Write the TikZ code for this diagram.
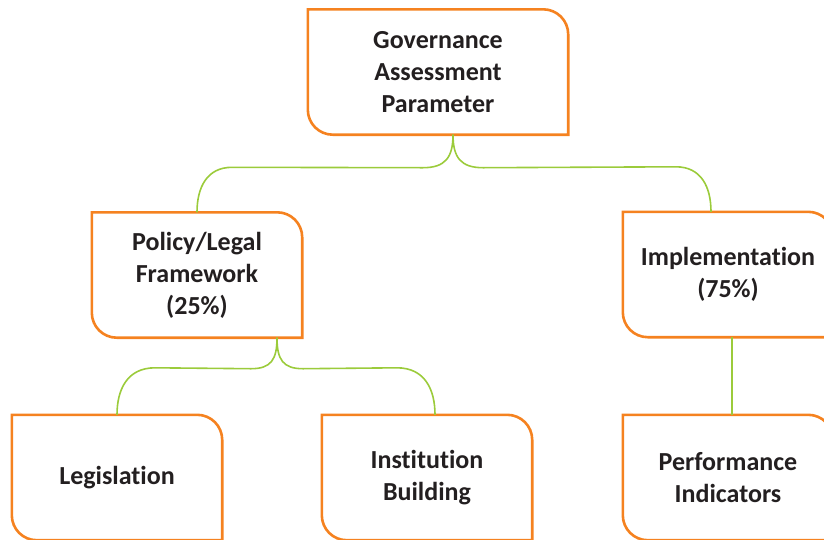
\documentclass[tikz,border=0pt]{standalone}
\usepackage{fontspec}
\setmainfont{Carlito}[RawFeature=-liga]
\usetikzlibrary{calc}
\definecolor{boxorange}{HTML}{F58220}
\definecolor{linkgreen}{HTML}{9BCB3B}
\definecolor{inkdark}{HTML}{231F20}
\newlength{\cornerr}
\setlength{\cornerr}{25pt}
% outline with rounded top-right and bottom-left corners
\newcommand{\diagbox}[1]{%
  \draw[boxline] (#1.north west) -- ([xshift=-\cornerr]#1.north east)
    arc[start angle=90,end angle=0,radius=\cornerr] -- (#1.south east)
    -- ([xshift=\cornerr]#1.south west)
    arc[start angle=270,end angle=180,radius=\cornerr] -- cycle;}
\tikzset{
  boxline/.style={draw=boxorange,line width=2.6pt},
  label/.style={inner sep=0pt,minimum width=210pt,minimum height=125pt,
    align=center,text=inkdark,font=\bfseries\fontsize{26}{32}\selectfont},
  link/.style={draw=linkgreen,line width=1.6pt}
}
\begin{document}
\begin{tikzpicture}[x=1pt,y=-1pt]
\useasboundingbox (0,0) rectangle (824,539);
\clip (0,0) rectangle (824,539);
\node[label,minimum width=260pt] (gap) at (438,72) {Governance\\Assessment\\Parameter};
\node[label] (plf) at (197,275) {Policy/Legal\\Framework\\(25\%)};
\node[label] (impl) at (728,274.5) {Implementation\\(75\%)};
\node[label] (leg) at (117,477.5) {Legislation};
\node[label] (inst) at (427,477.5) {Institution\\Building};
\node[label] (perf) at (728,477.5) {Performance\\Indicators};
\foreach \n in {gap,plf,impl,leg,inst,perf}{\diagbox{\n}}
% top level branches
\draw[link] ([xshift=15pt]gap.south) .. controls +(0,23) and +(22,0) .. ++(-30,33)
  -- ([xshift=35pt,yshift=45pt]plf.north) .. controls +(-25,0) and +(0,-25) .. (plf.north);
\draw[link] ([xshift=15pt]gap.south) .. controls +(0,23) and +(-22,0) .. ++(30,33)
  -- ([xshift=-52pt,yshift=45pt]impl.north) .. controls +(25,0) and +(0,-25) .. ([xshift=-17pt]impl.north);
% second level branches
\draw[link] ([xshift=80pt]plf.south) .. controls +(0,22) and +(20,0) .. ++(-26,31)
  -- ([xshift=38pt,yshift=47pt]leg.north) .. controls +(-28,0) and +(0,-25) .. (leg.north);
\draw[link] ([xshift=80pt]plf.south) .. controls +(0,22) and +(-20,0) .. ++(26,31)
  -- ([xshift=-30pt,yshift=47pt]inst.north) .. controls +(28,0) and +(0,-25) .. ([xshift=8pt]inst.north);
\draw[link] ([xshift=4pt]impl.south) -- ([xshift=4pt]perf.north);
\end{tikzpicture}
\end{document}
